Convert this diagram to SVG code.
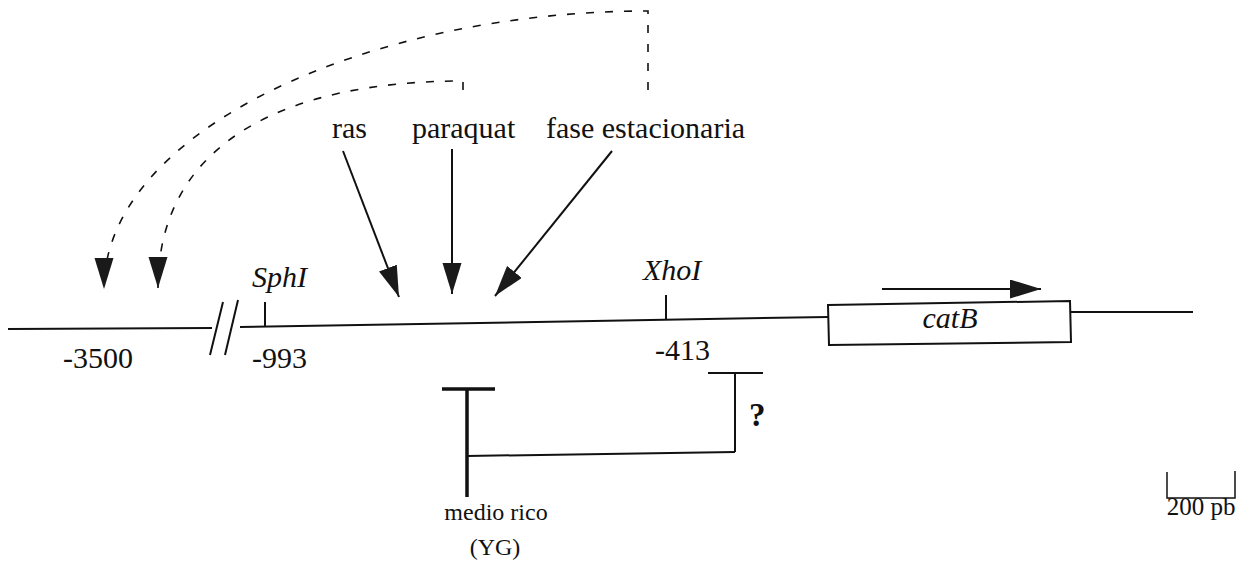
<svg xmlns="http://www.w3.org/2000/svg" width="1250" height="582" viewBox="0 0 1250 582">
<defs>
<style>
text{font-family:"Liberation Serif","Times New Roman",serif;font-size:30px;fill:#111}
.i{font-style:italic}
.s{fill:none;stroke:#111;stroke-width:2}
.d{fill:none;stroke:#111;stroke-width:1.6;stroke-dasharray:8 11}
</style>
<marker id="ah" markerUnits="userSpaceOnUse" markerWidth="32" markerHeight="20" refX="31" refY="9.5" orient="auto" viewBox="0 0 32 20">
<path d="M0,0 L31,9.5 L0,19 z" fill="#1a1a1a"/>
</marker>
</defs>
<rect width="1250" height="582" fill="#fff"/>
<g id="connectors">
<path class="d" d="M648,90 V11 C370,11 104,130 104,289" marker-end="url(#ah)"/>
<path class="d" d="M463,90 V81 C290,81 158,140 158,288" marker-end="url(#ah)"/>
<path class="s" d="M343,151 L399,297" marker-end="url(#ah)"/>
<path class="s" d="M452,149 L452,294" marker-end="url(#ah)"/>
<path class="s" d="M612,151 L495,296" marker-end="url(#ah)"/>
<path class="s" d="M882,289 L1041,289" marker-end="url(#ah)"/>
</g>
<g id="dna">
<path class="s" d="M8,329 L212,328"/>
<path class="s" d="M223,302 L210,355 M238,300 L225,355"/>
<path class="s" d="M240,327 L828,317"/>
<path class="s" d="M1070,312 L1193,312"/>
<path class="s" d="M265,302 V327"/>
<path class="s" d="M666,295 V320"/>
</g>
<g id="catB" font-family="Liberation Serif, serif">
<polygon class="s" points="828,305 1070,301 1071,342 829,345"/>
<text class="i" x="950" y="328" text-anchor="middle">catB</text>
</g>
<g id="labels" font-family="Liberation Serif, serif">
<text x="332" y="138">ras</text>
<text x="412" y="138">paraquat</text>
<text x="546" y="138">fase estacionaria</text>
<text class="i" x="252" y="287">SphI</text>
<text class="i" x="643" y="280">XhoI</text>
<text x="63" y="368">-3500</text>
<text x="252" y="368">-993</text>
<text x="655" y="360">-413</text>
</g>
<g id="medio-rico" font-family="Liberation Serif, serif">
<path fill="none" stroke="#111" stroke-width="3.5" d="M442,389 H495 M467,389 V497"/>
<path class="s" d="M467,456 L735,452"/>
<text x="496" y="520" text-anchor="middle" style="font-size:24px">medio rico</text>
<text x="495" y="555" text-anchor="middle" style="font-size:24px">(YG)</text>
</g>
<g id="unknown" font-family="Liberation Serif, serif">
<path class="s" d="M708,373 H763 M735,373 V452"/>
<text x="749" y="426" style="font-weight:bold;font-size:33px">?</text>
</g>
<g id="scale" font-family="Liberation Serif, serif">
<path fill="none" stroke="#111" stroke-width="1.5" d="M1167,472 V498 H1235 V471"/>
<text x="1201" y="515" text-anchor="middle" style="font-size:25px">200 pb</text>
</g>
</svg>
